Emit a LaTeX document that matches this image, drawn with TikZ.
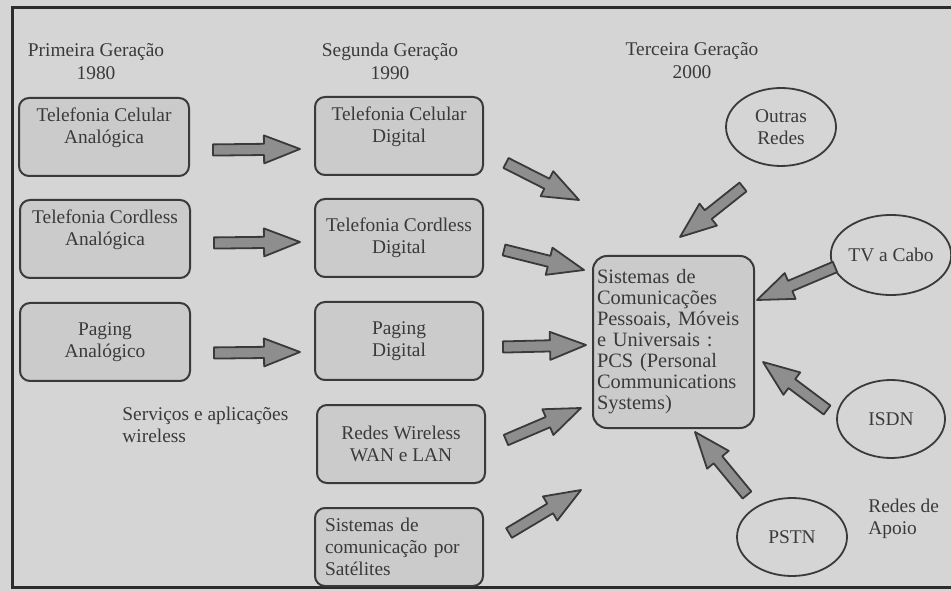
\documentclass[tikz,border=0pt]{standalone}
\usepackage{fontspec}
\setmainfont{Liberation Serif}
\usetikzlibrary{calc,shapes.geometric}

\definecolor{paper}{HTML}{D5D5D5}
\definecolor{boxgray}{HTML}{CBCBCB}
\definecolor{ink}{HTML}{3A3A3A}
\definecolor{framegray}{HTML}{2C2C2C}
\definecolor{arrowgray}{HTML}{8E8E8E}

% thick gray arrow from #1 to #2
\newcommand{\blockarrow}[2]{%
  \coordinate (tail) at (#1);
  \coordinate (tip) at (#2);
  \coordinate (neck) at ($(tip)!18pt!(tail)$);
  \draw [blockarrow] ($(tail)!2.8pt!90:(tip)$) -- ($(neck)!2.8pt!90:(tip)$)
    -- ($(neck)!7pt!90:(tip)$) -- (tip) -- ($(neck)!7pt!-90:(tip)$)
    -- ($(neck)!2.8pt!-90:(tip)$) -- ($(tail)!2.8pt!-90:(tip)$) -- cycle;
}

\begin{document}
\begin{tikzpicture}
  [
    x=.5pt, y=-.5pt,
    every node/.style={text=ink, font=\fontsize{9.7}{11}\selectfont},
    title/.style={align=center, font=\fontsize{9.7}{11.5}\selectfont},
    service/.style={draw=ink, line width=1pt, rounded corners=5pt, fill=boxgray,
      minimum width=85pt, minimum height=39pt, inner sep=0pt, align=center},
    network/.style={draw=ink, line width=.9pt, ellipse, minimum width=55pt,
      minimum height=39pt, inner sep=0pt, align=center},
    blockarrow/.style={draw=ink, line width=.9pt, fill=arrowgray, line join=round},
  ]

    % page
    \fill [paper] (0,0) rectangle (951,592);
    \useasboundingbox (0,0) rectangle (951,592);
    \draw [framegray, line width=1.5pt] (960,8) -- (12,8) -- (12,587) -- (960,587);

    % generations
    \node [title] (g1) at (96,62) {Primeira Geração\\1980};
    \node [title] (g2) at (390,61) {Segunda Geração\\1990};
    \node [title] (g3) at (692,61) {Terceira Geração\\2000};

    % first generation
    \node [service] (a1) at (104,137) {Telefonia Celular\\Analógica\\\mbox{}};
    \node [service] (a2) at (105,239) {Telefonia Cordless\\Analógica\\\mbox{}};
    \node [service] (a3) at (105,342) {Paging\\Analógico};

    % second generation
    \node [service, minimum width=84pt] (b1) at (399,136) {Telefonia Celular\\Digital\\\mbox{}};
    \node [service, minimum width=84pt] (b2) at (399,238) {Telefonia Cordless\\Digital};
    \node [service, minimum width=84pt] (b3) at (399,341) {Paging\\Digital};
    \node [service, minimum width=84pt] (b4) at (401,444) {Redes Wireless\\WAN e LAN};
    \node [service, minimum width=84pt, text width=74pt, align=left] (b5) at (399,547)
      {Sistemas de\\comunicação por\\Satélites};
    \node [anchor=west, align=left, inner sep=0pt] (serv) at (122,425)
      {Serviços e aplicações\\wireless};

    % third generation
    \node [service, rounded corners=7pt, minimum width=80.5pt, minimum height=86pt,
      text width=76.5pt, align=left, font=\fontsize{10.2}{10.5}\selectfont] (pcs) at (673.5,342)
      {Sistemas de\\Comunicações\\Pessoais, Móveis\\e Universais :\\PCS (Personal\\Communications\\Systems)};

    % support networks
    \node [network] (outras) at (781,127) {Outras\\Redes};
    \node [network, minimum width=54pt, minimum height=40pt] (tv) at (891,255) {TV a Cabo};
    \node [network, minimum width=54pt] (isdn) at (891,419) {ISDN};
    \node [network] (pstn) at (792,537) {PSTN};
    \node [anchor=west, align=left, inner sep=0pt] (apoio) at (868,519) {Redes de\\Apoio};

    % arrows
    \foreach \i/\dy in {1/13,2/4,3/11} {
      \blockarrow{$(a\i.east)+(23,\dy)$}{$(b\i.west)+(-14,\dy)$}
    }
    \foreach \i/\tx/\ty/\hx/\hy in {1/22/27/-13/-142,2/20/12/-8/-72,3/19/6/-6/3,4/20/-4/-11/66,5/25/-14/-11/148} {
      \blockarrow{$(b\i.east)+(\tx,\ty)$}{$(pcs.west)+(\hx,\hy)$}
    }
    \foreach \net/\tx/\ty/\hx/\hy in {outras/-38/60/6.5/-105,tv/-56/12/83.5/-42,isdn/-64/-9/89.5/20,pstn/-45/-42/21.5/90} {
      \blockarrow{$(\net.center)+(\tx,\ty)$}{$(pcs.center)+(\hx,\hy)$}
    }
  \end{tikzpicture}
\end{document}
